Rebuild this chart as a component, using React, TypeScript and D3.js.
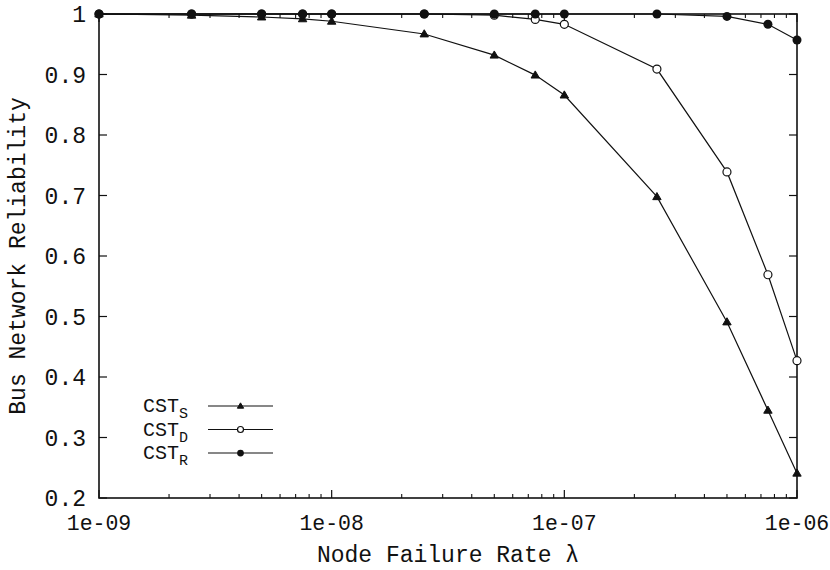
import * as d3 from "d3";

// failure rates on the x axis
const lambdas = [1e-9, 2.5e-9, 5e-9, 7.5e-9, 1e-8, 2.5e-8, 5e-8, 7.5e-8, 1e-7, 2.5e-7, 5e-7, 7.5e-7, 1e-6];

const cstS = [1.0, 0.998, 0.995, 0.992, 0.988, 0.967, 0.932, 0.899, 0.866, 0.698, 0.491, 0.345, 0.241];
const cstD = [1.0, 1.0, 1.0, 1.0, 1.0, 1.0, 0.998, 0.991, 0.983, 0.909, 0.739, 0.569, 0.427];
const cstR = [1.0, 1.0, 1.0, 1.0, 1.0, 1.0, 1.0, 1.0, 1.0, 1.0, 0.996, 0.983, 0.957];

const xTickLabels = ["1e-09", "1e-08", "1e-07", "1e-06"];
const yTicks = [0.2, 0.3, 0.4, 0.5, 0.6, 0.7, 0.8, 0.9, 1];

const series = [
  { name: "S", values: cstS, marker: "triangle" },
  { name: "D", values: cstD, marker: "open" },
  { name: "R", values: cstR, marker: "dot" },
];

const W = 830;
const H = 570;
const margin = { top: 14, right: 33, bottom: 72, left: 99 };
const FONT = "'Liberation Mono', 'Courier New', monospace";

function Marker({ type, x, y, s = 1 }: { type: string; x: number; y: number; s?: number }) {
  if (type === "triangle") {
    const r = 4.2 * s;
    return (
      <path
        d={`M${x},${y - r}L${x + r},${y + r * 0.7}L${x - r},${y + r * 0.7}Z`}
        fill="#111"
        stroke="#111"
        strokeWidth={1}
      />
    );
  }
  if (type === "open") {
    return <circle cx={x} cy={y} r={4 * s} fill="#fff" stroke="#111" strokeWidth={1.2} />;
  }
  return <circle cx={x} cy={y} r={4.5 * s} fill="#111" />;
}

export default function App() {
  const x = d3
    .scaleLog()
    .domain([1e-9, 1e-6])
    .range([margin.left, W - margin.right]);
  const y = d3
    .scaleLinear()
    .domain([0.2, 1])
    .range([H - margin.bottom, margin.top]);

  const x0 = margin.left;
  const x1 = W - margin.right;
  const y0 = H - margin.bottom;
  const y1 = margin.top;

  const allXTicks = x.ticks();
  const majorX = allXTicks.filter((t) => Math.abs(Math.log10(t) - Math.round(Math.log10(t))) < 1e-9);
  const minorX = allXTicks.filter((t) => !majorX.includes(t));

  const line = d3
    .line<number>()
    .x((_, i) => x(lambdas[i]))
    .y((d) => y(d));

  return (
    <svg
      width={W}
      height={H}
      style={{ position: "absolute", left: 0, top: 0, background: "#fff" }}
      fontFamily={FONT}
    >
      {/* ticks */}
      {yTicks.map((t) => (
        <g key={"y" + t}>
          <line x1={x0} x2={x0 + 8} y1={y(t)} y2={y(t)} stroke="#111" strokeWidth={1.2} />
          <line x1={x1} x2={x1 - 8} y1={y(t)} y2={y(t)} stroke="#111" strokeWidth={1.2} />
          <text x={86} y={y(t)} dy="0.35em" textAnchor="end" fontSize={23} fill="#111">
            {String(t)}
          </text>
        </g>
      ))}
      {majorX.map((t, i) => (
        <g key={"xm" + i}>
          <line x1={x(t)} x2={x(t)} y1={y0} y2={y0 - 8} stroke="#111" strokeWidth={1.2} />
          <line x1={x(t)} x2={x(t)} y1={y1} y2={y1 + 8} stroke="#111" strokeWidth={1.2} />
          <text x={x(t)} y={530} textAnchor="middle" fontSize={21.5} fill="#111">
            {xTickLabels[i]}
          </text>
        </g>
      ))}
      {minorX.map((t, i) => (
        <g key={"xn" + i}>
          <line x1={x(t)} x2={x(t)} y1={y0} y2={y0 - 4} stroke="#111" strokeWidth={1.1} />
          <line x1={x(t)} x2={x(t)} y1={y1} y2={y1 + 4} stroke="#111" strokeWidth={1.1} />
        </g>
      ))}

      {/* frame */}
      <rect x={x0} y={y1} width={x1 - x0} height={y0 - y1} fill="none" stroke="#111" strokeWidth={1.6} />

      {/* series */}
      {series.map((s) => (
        <g key={s.name}>
          <path d={line(s.values) ?? ""} fill="none" stroke="#111" strokeWidth={1.2} />
          {s.values.map((v, i) => (
            <Marker key={i} type={s.marker} x={x(lambdas[i])} y={y(v)} />
          ))}
        </g>
      ))}

      {/* legend */}
      {series.map((s, i) => {
        const ly = 406 + i * 23.5;
        return (
          <g key={"lg" + s.name}>
            <text x={143} y={ly + 6} fontSize={20} fill="#111">
              CST
              <tspan dy={6} fontSize={15}>
                {s.name}
              </tspan>
            </text>
            <line x1={208} x2={273} y1={ly} y2={ly} stroke="#111" strokeWidth={1.2} />
            <Marker type={s.marker} x={240.5} y={ly} s={0.75} />
          </g>
        );
      })}

      {/* axis titles */}
      <text x={(x0 + x1) / 2} y={562} textAnchor="middle" fontSize={23} fill="#111">
        Node Failure Rate λ
      </text>
      <text
        transform={`translate(25,${(y0 + y1) / 2}) rotate(-90)`}
        textAnchor="middle"
        fontSize={23}
        fill="#111"
      >
        Bus Network Reliability
      </text>
    </svg>
  );
}
